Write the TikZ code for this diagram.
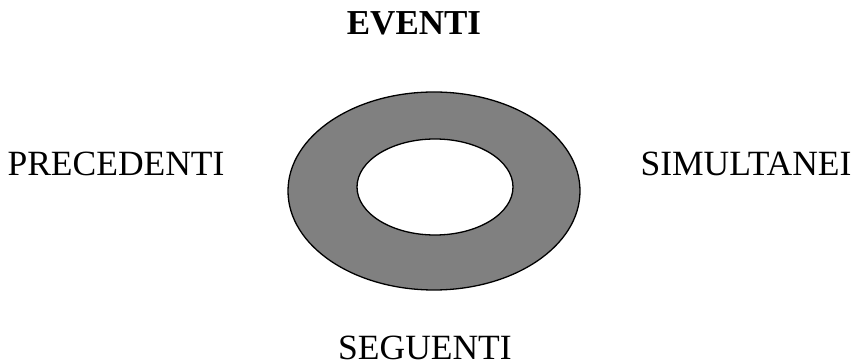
\documentclass[tikz,border=0pt]{standalone}
\usepackage{fontspec}
\setmainfont{Liberation Serif}
\begin{document}
\begin{tikzpicture}[x=1pt, y=-1pt, line width=1.3pt]
  \useasboundingbox (0,0) rectangle (860,363);
  \tikzset{lbl/.style={font=\fontsize{35.5}{40}\selectfont, inner sep=0pt, anchor=base}}
  \coordinate (O) at (434,191);
  \coordinate (I) at (435,187);
  \fill[fill=black!50, even odd rule] (O) ellipse[x radius=146, y radius=99] (I) ellipse[x radius=78, y radius=48];
  \draw (O) ellipse[x radius=146, y radius=99];
  \draw (I) ellipse[x radius=78, y radius=48];
  \node[lbl, font=\fontsize{35}{40}\selectfont\bfseries] (ev) at (414,35) {EVENTI};
  \node[lbl] (pre) at (116,176) {PRECEDENTI};
  \node[lbl] (sim) at (746,176) {SIMULTANEI};
  \node[lbl] (seg) at (425,360) {SEGUENTI};
\end{tikzpicture}
\end{document}
